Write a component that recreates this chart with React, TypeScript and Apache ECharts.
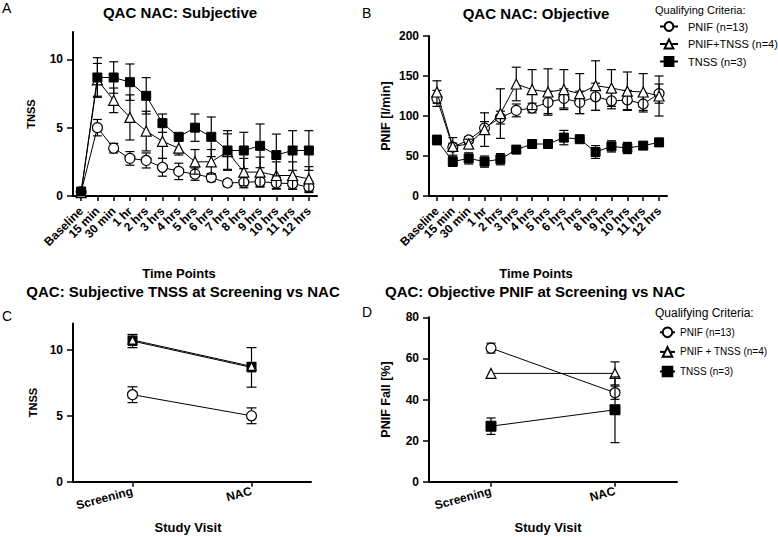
import React, { useEffect, useRef } from 'react';
import * as echarts from 'echarts';

const FONT = '"Liberation Sans", Arial, Helvetica, sans-serif';

// Categories
const timePoints = ['Baseline', '15 min', '30 min', '1 hr', '2 hrs', '3 hrs', '4 hrs', '5 hrs', '6 hrs', '7 hrs', '8 hrs', '9 hrs', '10 hrs', '11 hrs', '12 hrs'];
const visits = ['Screening', 'NAC'];

// Panel A: subjective TNSS over time (mean, SEM)
const aPnif = [0.3, 5.0, 3.5, 2.75, 2.6, 2.1, 1.8, 1.6, 1.35, 0.95, 1.0, 1.05, 0.95, 0.9, 0.65];
const aPnifErr = [0.2, 0.6, 0.35, 0.5, 0.55, 0.65, 0.6, 0.45, 0.3, 0.25, 0.4, 0.35, 0.4, 0.4, 0.4];
const aBoth = [0.25, 8.5, 7.0, 5.75, 4.75, 4.0, 3.5, 2.5, 2.5, 3.25, 1.75, 1.75, 1.5, 1.5, 1.25];
const aBothErr = [0.25, 1.2, 0.9, 1.65, 1.45, 1.25, 0.5, 0.9, 0.9, 1.3, 1.0, 1.1, 1.0, 1.0, 0.9];
const aTnss = [0.33, 8.67, 8.67, 8.33, 7.33, 5.33, 4.33, 5.0, 4.33, 3.33, 3.33, 3.67, 3.0, 3.33, 3.33];
const aTnssErr = [0, 1.45, 1.15, 1.33, 1.33, 0.67, 0, 1.0, 1.45, 1.45, 1.33, 1.6, 1.53, 1.45, 1.45];

// Panel B: objective PNIF over time (l/min)
const bPnif = [122, 61, 70, 85, 98, 107, 110, 117, 122, 117, 124, 119, 120, 115, 128];
const bPnifErr = [10, 5, 4, 8, 8, 8, 6, 14, 12, 14, 17, 10, 12, 10, 12];
const bBoth = [130, 62, 65, 83, 103, 140, 133, 130, 133, 128, 138, 135, 131, 130, 125];
const bBothErr = [14, 11, 6, 21, 31, 21, 25, 29, 25, 25, 31, 23, 24, 23, 25];
const bTnss = [70, 43, 47, 43, 46, 58, 65, 65, 73, 71, 55, 62, 60, 63, 67];
const bTnssErr = [6, 6, 7, 7, 7, 2, 2, 3, 9, 2, 8, 7, 7, 3, 5];

// Panel C: TNSS at screening vs NAC
const cPnif = [6.6, 5.0];
const cPnifErr = [0.6, 0.6];
const cBoth = [10.75, 8.75];
const cBothErr = [0.3, 0.3];
const cTnss = [10.67, 8.67];
const cTnssErr = [0.5, 1.5];

// Panel D: PNIF fall at screening vs NAC (%)
const dPnif = [65, 43.3];
const dPnifErr = [2.4, 3.2];
const dBoth = [52.7, 52.7];
const dBothErr = [0, 5.6];
const dTnss = [27, 35];
const dTnssErr = [4, 16];

// Tick labels
const ticksTnss = [0, 5, 10];
const ticksPnif = [0, 50, 100, 150, 200];
const ticksFall = [0, 20, 40, 60, 80];

// Legend labels
const nPnif = 'PNIF (n=13)';
const nBoth = 'PNIF+TNSS (n=4)';
const nBothD = 'PNIF + TNSS (n=4)';
const nTnss = 'TNSS (n=3)';

const kinds: any = {
  circle: { symbol: 'circle', itemStyle: { color: '#fff', borderColor: '#000', borderWidth: 1.2 } },
  tri: { symbol: 'triangle', itemStyle: { color: '#fff', borderColor: '#000', borderWidth: 1.2 } },
  sq: { symbol: 'rect', itemStyle: { color: '#000', borderColor: '#000', borderWidth: 1 } },
};

function lineS(name: string, idx: number, data: number[], kind: string, size: number, z: number) {
  return {
    type: 'line', name, xAxisIndex: idx, yAxisIndex: idx, data,
    symbol: kinds[kind].symbol, symbolSize: size, showAllSymbol: true,
    itemStyle: kinds[kind].itemStyle,
    lineStyle: { color: '#000', width: 1 },
    z, silent: true, emphasis: { disabled: true },
  };
}

function errS(name: string, idx: number, vals: number[], errs: number[], cap: number, z: number) {
  return {
    type: 'custom', name: name + ' SEM', xAxisIndex: idx, yAxisIndex: idx,
    data: vals.map((v, i) => [i, v - errs[i], v + errs[i]]),
    encode: { x: 0, y: [1, 2] },
    z, silent: true,
    renderItem: (params: any, api: any) => {
      const x = api.value(0);
      const lo = api.value(1);
      const hi = api.value(2);
      if (hi - lo <= 0) return { type: 'group', children: [] };
      const pl = api.coord([x, lo]);
      const ph = api.coord([x, hi]);
      const st = { stroke: '#000', lineWidth: 1.2, fill: 'none' };
      return {
        type: 'group',
        children: [
          { type: 'line', shape: { x1: pl[0], y1: pl[1], x2: ph[0], y2: ph[1] }, style: st },
          { type: 'line', shape: { x1: ph[0] - cap / 2, y1: ph[1], x2: ph[0] + cap / 2, y2: ph[1] }, style: st },
          { type: 'line', shape: { x1: pl[0] - cap / 2, y1: pl[1], x2: pl[0] + cap / 2, y2: pl[1] }, style: st },
        ],
      };
    },
  };
}

const axisLineStyle = { show: true, onZero: false, lineStyle: { color: '#000', width: 2 } };

function xCat(idx: number, data: string[], rotate: number, margin: number, name: string, gap: number, shift: number) {
  return {
    gridIndex: idx, type: 'category', data, boundaryGap: true,
    axisLine: axisLineStyle,
    axisTick: { show: true, alignWithLabel: true, length: 5, lineStyle: { color: '#000', width: 1.5 } },
    axisLabel: { interval: 0, rotate, margin, color: '#000', fontSize: 12, fontWeight: 'bold', fontFamily: FONT },
    splitLine: { show: false },
    name, nameLocation: 'middle', nameGap: gap,
    nameTextStyle: { color: '#000', fontSize: 13, fontWeight: 'bold', fontFamily: FONT, padding: [0, shift * 2, 0, 0] },
  };
}

function yVal(idx: number, max: number, interval: number, ticks: number[], name: string, gap: number, nameSize: number) {
  return {
    gridIndex: idx, type: 'value', min: 0, max, interval,
    axisLine: axisLineStyle,
    axisTick: { show: true, length: 6, customValues: ticks, lineStyle: { color: '#000', width: 1.5 } },
    axisLabel: { customValues: ticks, margin: 10, color: '#000', fontSize: 12, fontWeight: 'bold', fontFamily: FONT },
    splitLine: { show: false },
    name, nameLocation: 'middle', nameGap: gap,
    nameTextStyle: { color: '#000', fontSize: nameSize, fontWeight: 'bold', fontFamily: FONT },
  };
}

function txt(text: string, x: number, y: number, size: number, weight: string, align: string) {
  return {
    type: 'text', x, y, silent: true,
    style: { text, fill: '#000', fontSize: size, fontWeight: weight, fontFamily: FONT, align, verticalAlign: 'middle' },
  };
}

const option: any = {
  animation: false,
  backgroundColor: '#fff',
  textStyle: { fontFamily: FONT },
  grid: [
    { left: 73, top: 32, width: 244, height: 164 },
    { left: 429, top: 36, width: 238, height: 160 },
    { left: 73, top: 323.5, width: 238, height: 158.2 },
    { left: 429, top: 317.3, width: 248, height: 164.4 },
  ],
  xAxis: [
    xCat(0, timePoints, 45, 13, 'Time Points', 71, 16),
    xCat(1, timePoints, 45, 13, 'Time Points', 71, 12),
    xCat(2, visits, 15, 9, 'Study Visit', 39, 4),
    xCat(3, visits, 15, 9, 'Study Visit', 39, 5),
  ],
  yAxis: [
    yVal(0, 12, 5, ticksTnss, 'TNSS', 37, 11),
    yVal(1, 200, 50, ticksPnif, 'PNIF [l/min]', 37, 12.5),
    yVal(2, 12, 5, ticksTnss, 'TNSS', 35, 11),
    yVal(3, 80, 20, ticksFall, 'PNIF Fall [%]', 37, 12.5),
  ],
  legend: [
    {
      orient: 'vertical', left: 659, top: 21, padding: 0, itemWidth: 18, itemHeight: 11, itemGap: 6.5,
      data: [nPnif, nBoth, nTnss], selectedMode: false,
      textStyle: { color: '#000', fontSize: 11, fontFamily: FONT, padding: [0, 0, 0, 5] },
    },
    {
      orient: 'vertical', left: 659, top: 326.5, padding: 0, itemWidth: 15, itemHeight: 12, itemGap: 8,
      data: [nPnif, nBothD, nTnss], selectedMode: false,
      textStyle: { color: '#000', fontSize: 10, fontFamily: FONT, padding: 0 },
    },
  ],
  graphic: [
    txt('A', 2, 8, 14, 'normal', 'left'),
    txt('B', 362, 13, 14, 'normal', 'left'),
    txt('C', 2, 316, 14, 'normal', 'left'),
    txt('D', 362, 312, 14, 'normal', 'left'),
    txt('QAC NAC: Subjective', 180, 12, 15, 'bold', 'center'),
    txt('QAC NAC: Objective', 536, 13, 15, 'bold', 'center'),
    txt('QAC: Subjective TNSS at Screening vs NAC', 183, 291, 15, 'bold', 'center'),
    txt('QAC: Objective PNIF at Screening vs NAC', 535, 291, 15, 'bold', 'center'),
    txt('Qualifying Criteria:', 655, 10, 11, 'normal', 'left'),
    txt('Qualifying Criteria:', 655, 313, 12, 'normal', 'left'),
  ],
  series: [
    // Panel A
    errS(nPnif, 0, aPnif, aPnifErr, 9, 3), lineS(nPnif, 0, aPnif, 'circle', 10, 4),
    errS(nBoth, 0, aBoth, aBothErr, 9, 5), lineS(nBoth, 0, aBoth, 'tri', 10, 6),
    errS(nTnss, 0, aTnss, aTnssErr, 9, 7), lineS(nTnss, 0, aTnss, 'sq', 9, 8),
    // Panel B
    errS(nPnif, 1, bPnif, bPnifErr, 9, 3), lineS(nPnif, 1, bPnif, 'circle', 10, 4),
    errS(nBoth, 1, bBoth, bBothErr, 9, 5), lineS(nBoth, 1, bBoth, 'tri', 10, 6),
    errS(nTnss, 1, bTnss, bTnssErr, 9, 7), lineS(nTnss, 1, bTnss, 'sq', 9, 8),
    // Panel C
    errS(nPnif, 2, cPnif, cPnifErr, 10, 3), lineS(nPnif, 2, cPnif, 'circle', 10, 4),
    errS(nTnss, 2, cTnss, cTnssErr, 10, 5), lineS(nTnss, 2, cTnss, 'sq', 9, 6),
    errS(nBoth, 2, cBoth, cBothErr, 10, 7), lineS(nBoth, 2, cBoth, 'tri', 8, 8),
    // Panel D
    errS(nPnif, 3, dPnif, dPnifErr, 9, 3), lineS(nPnif, 3, dPnif, 'circle', 10, 4),
    errS(nBothD, 3, dBoth, dBothErr, 9, 5), lineS(nBothD, 3, dBoth, 'tri', 10, 6),
    errS(nTnss, 3, dTnss, dTnssErr, 9, 7), lineS(nTnss, 3, dTnss, 'sq', 10, 8),
  ],
};

export default function App() {
  const ref = useRef<HTMLDivElement>(null);
  useEffect(() => {
    const chart = echarts.init(ref.current as HTMLDivElement, null, { renderer: 'svg' });
    chart.setOption(option);
    return () => chart.dispose();
  }, []);
  return (
    <div
      ref={ref}
      style={{ position: 'absolute', left: 0, top: 0, width: 778, height: 537, background: '#fff' }}
    />
  );
}
